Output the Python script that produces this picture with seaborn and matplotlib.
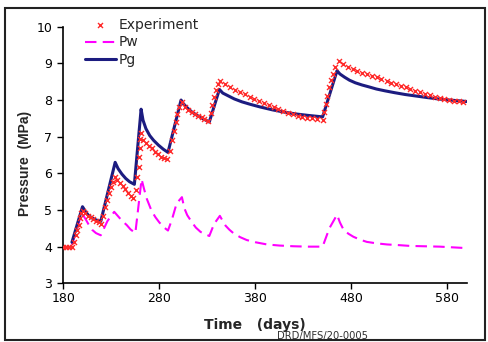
import matplotlib
matplotlib.use("Agg")
import matplotlib.pyplot as plt
import seaborn as sns
import pandas as pd
from matplotlib.patches import Rectangle

# ---- data ----
exp_t = [180, 183, 186, 189,
         191, 193, 194.6, 196, 197.4, 198.8, 200.2,
         202.9, 205.7, 208.5, 211, 214, 216.9, 219,
         221, 223, 225.2, 227.3, 229.4, 231.5, 234.2,
         236.3, 239, 241.9, 244.6, 247.4, 250.2, 252.9,
         255.7, 257, 258.5, 259.2, 259.9, 260.2, 260.8,
         263.3, 266, 269.3, 272.4, 275.5, 279, 281.8, 284.9, 288.3,
         291, 292.9, 295, 297, 298.8, 300.5, 303.3,
         306.8, 310.2, 313.7, 317.2, 320.7, 324.2, 327, 330.4,
         333.9, 335.2, 337.3, 338.8, 340.8, 343.3,
         348.4, 353.6, 358.9, 364, 369.3, 374.5, 379, 384.2, 389, 394.3, 399.2,
         404, 409.2, 413.7, 419, 424.2, 429, 433.9, 438.7, 444, 450,
         451.8, 453.3, 455, 457, 459.2, 461, 462.5, 466.9,
         471.4, 476.6, 481.5, 486.3, 491.5, 496.4, 501.2, 506.4, 511.2, 516.5,
         521.4, 526.6, 531.4, 536.3, 541.4, 546.4, 551.6, 556.4, 561.7, 566.5,
         571.7, 576.6, 581.5, 586.5, 591.5, 596.5]
exp_p = [4.00, 4.00, 3.99, 4.00,
         4.14, 4.32, 4.45, 4.59, 4.77, 4.91, 4.98,
         4.91, 4.84, 4.80, 4.75, 4.71, 4.66, 4.63,
         4.84, 5.09, 5.27, 5.45, 5.62, 5.77, 5.90,
         5.82, 5.73, 5.65, 5.56, 5.47, 5.38, 5.33,
         5.55, 5.89, 6.18, 6.44, 6.68, 6.93, 7.10,
         6.91, 6.82, 6.75, 6.68, 6.59, 6.52, 6.45, 6.41, 6.38,
         6.62, 6.91, 7.15, 7.39, 7.62, 7.82, 7.95,
         7.82, 7.73, 7.66, 7.62, 7.57, 7.53, 7.48, 7.44,
         7.64, 7.86, 8.09, 8.27, 8.44, 8.52,
         8.43, 8.36, 8.28, 8.21, 8.16, 8.08, 8.02, 7.97, 7.92, 7.86, 7.80,
         7.75, 7.71, 7.65, 7.62, 7.57, 7.55, 7.52, 7.50, 7.47, 7.46,
         7.66, 7.88, 8.12, 8.35, 8.55, 8.72, 8.90, 9.06,
         8.98, 8.91, 8.85, 8.80, 8.75, 8.71, 8.66, 8.62, 8.57, 8.52,
         8.47, 8.43, 8.38, 8.35, 8.30, 8.25, 8.22, 8.17, 8.14, 8.09,
         8.06, 8.02, 7.99, 7.97, 7.96, 7.95]

pw_t = [189, 194, 199, 203, 206, 210, 214, 219,
        226, 233, 237, 241, 246, 250, 255,
        261.5, 264, 267, 272, 276, 280, 285, 289,
        293, 298, 303.5, 306, 309, 314, 318, 323, 332,
        337, 343, 346, 349, 353, 357, 364, 371, 380, 392, 405, 420, 435, 450,
        457, 465, 468, 472, 477, 482, 489, 496, 506, 517, 530, 541, 556, 572, 586, 600]
pw_p = [4.05, 4.45, 4.92, 4.76, 4.62, 4.46, 4.37, 4.31,
        4.70, 4.95, 4.83, 4.71, 4.59, 4.47, 4.37,
        5.84, 5.58, 5.30, 4.97, 4.80, 4.66, 4.52, 4.44,
        4.73, 5.18, 5.35, 5.05, 4.86, 4.66, 4.52, 4.40, 4.29,
        4.62, 4.84, 4.70, 4.57, 4.46, 4.37, 4.26, 4.18, 4.12, 4.06, 4.03, 4.01, 4.00, 4.00,
        4.50, 4.87, 4.66, 4.45, 4.35, 4.27, 4.19, 4.13, 4.09, 4.06, 4.04, 4.02, 4.01, 4.00, 3.98, 3.96]

pg_t = [189, 200, 203, 206, 210, 214, 219,
        234, 237, 241, 245, 249, 254,
        261, 263, 266, 270, 274, 279, 284, 289,
        302.6, 305, 309, 314, 320, 326, 332,
        342.5, 346, 352, 358, 366, 375, 385, 398, 410, 422, 435, 450,
        465, 468, 473, 478, 484, 491, 498, 506, 515, 525, 536, 547, 558, 570, 582, 600]
pg_p = [4.12, 5.09, 4.96, 4.86, 4.78, 4.73, 4.69,
        6.30, 6.13, 5.98, 5.86, 5.77, 5.70,
        7.75, 7.45, 7.22, 7.03, 6.90, 6.77, 6.66, 6.57,
        8.00, 7.90, 7.79, 7.67, 7.57, 7.48, 7.40,
        8.29, 8.19, 8.11, 8.03, 7.95, 7.88, 7.81, 7.73, 7.67, 7.62, 7.58, 7.54,
        8.80, 8.71, 8.62, 8.54, 8.47, 8.41, 8.36, 8.30, 8.25, 8.20, 8.15, 8.11, 8.07, 8.03, 8.00, 7.96]

x_ticks = [180, 280, 380, 480, 580]
y_ticks = [3, 4, 5, 6, 7, 8, 9, 10]

df_exp = pd.DataFrame({"t": exp_t, "p": exp_p})
df_pw = pd.DataFrame({"t": pw_t, "p": pw_p})
df_pg = pd.DataFrame({"t": pg_t, "p": pg_p})

sns.set_style("ticks")
plt.rcParams["font.family"] = ["DejaVu Sans"]

W, H = 488, 342
fig = plt.figure(figsize=(W / 100, H / 100), dpi=100)
x0, x1, ytop, ybot = 63.3, 466.7, 26.7, 283.3
ax = fig.add_axes([x0 / W, 1 - ybot / H, (x1 - x0) / W, (ybot - ytop) / H])

sns.lineplot(data=df_pw, x="t", y="p", ax=ax, color="#ff00ff", linewidth=1.5,
             linestyle=(0, (5.5, 3)), estimator=None, sort=False, label="Pw")
sns.lineplot(data=df_pg, x="t", y="p", ax=ax, color="#1c1c80", linewidth=2.2,
             estimator=None, sort=False, label="Pg")
sns.scatterplot(data=df_exp, x="t", y="p", ax=ax, marker="x", s=13,
                color="#ff2a2a", linewidth=1.0, label="Experiment", zorder=3)

ax.set_xlim(180, 600)
ax.set_ylim(3, 10)
ax.set_xticks(x_ticks)
ax.set_yticks(y_ticks)
ax.set_xlabel("")
ax.set_ylabel("")
for s in ["top", "right"]:
    ax.spines[s].set_visible(False)
for s in ["left", "bottom"]:
    ax.spines[s].set_linewidth(1.2)
    ax.spines[s].set_color("black")
ax.tick_params(axis="both", direction="out", length=4, width=1.0, color="black",
               labelsize=9, labelcolor="black")
ax.tick_params(axis="y", pad=4)
ax.tick_params(axis="x", pad=2.5)

handles, labels = ax.get_legend_handles_labels()
order = [labels.index("Experiment"), labels.index("Pw"), labels.index("Pg")]
ax.legend([handles[i] for i in order], [labels[i] for i in order],
          loc="upper left", bbox_to_anchor=(85 / W, 1 - 18 / H),
          bbox_transform=fig.transFigure, frameon=False, fontsize=10,
          handlelength=2.2, handletextpad=0.2, labelspacing=0.25,
          borderpad=0, borderaxespad=0, scatterpoints=1)

fig.text(254.5 / W, 1 - 325 / H, "Time   (days)", fontsize=10, fontweight="bold",
         ha="center", va="center")
fig.text(25 / W, 1 - 163 / H, "Pressure  (MPa)", fontsize=10, fontweight="bold",
         rotation=90, ha="center", va="center", family=["Liberation Sans", "DejaVu Sans"])
fig.text(277 / W, 1 - 335.5 / H, "DRD/MFS/20-0005", fontsize=7.2, color="#303030",
         ha="left", va="center")

fig.patches.append(Rectangle((5 / W, 1 - 340 / H), 480 / W, 332 / H,
                             transform=fig.transFigure, fill=False,
                             edgecolor="#222222", linewidth=1.5))

fig.savefig("out.png", dpi=100)
